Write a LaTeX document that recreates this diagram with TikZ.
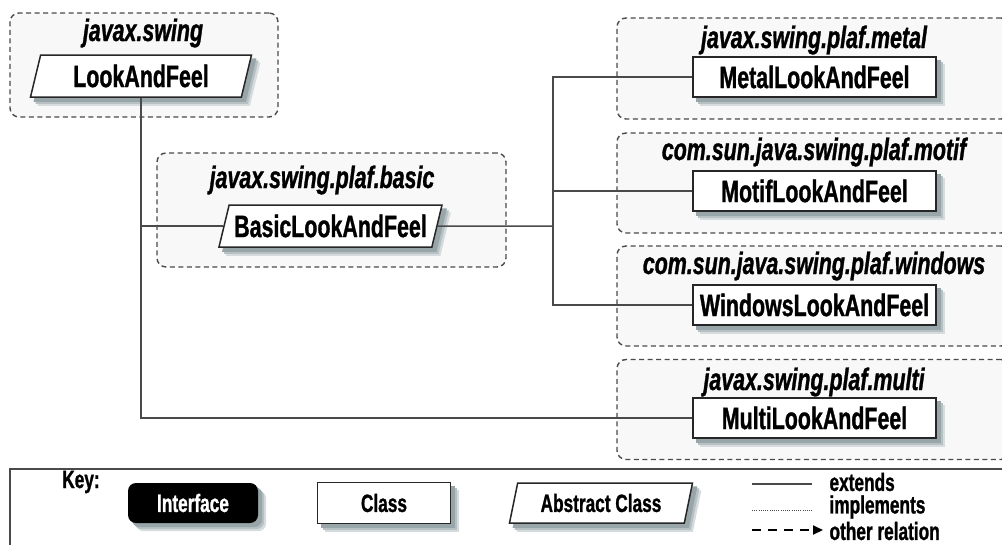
\documentclass[tikz,border=0pt]{standalone}
\usepackage{fontspec}
\setmainfont{Liberation Sans}[FakeStretch=0.69,BoldFeatures={FakeBold=1},BoldItalicFeatures={FakeBold=1}]
\usetikzlibrary{arrows.meta,shapes.geometric}
\definecolor{pkgfill}{HTML}{F8F8F8}
\definecolor{lnc}{HTML}{4A4A4A}
\definecolor{shd}{HTML}{98A6AA}
\pgfdeclarelayer{pkgs}
\pgfdeclarelayer{shadows}
\pgfsetlayers{pkgs,shadows,main}
\begin{document}
\begin{tikzpicture}[x=1pt,y=-1pt,font=\fontsize{31}{34}\selectfont\bfseries,
 pkg/.style={draw=lnc,fill=pkgfill,line width=1.4pt,dash pattern=on 5pt off 3.5pt,rounded corners=9pt,inner sep=0pt},
 pkgname/.style={font=\fontsize{31}{34}\selectfont\bfseries\itshape},
 cls/.style={draw=black!85,fill=white,line width=1.5pt,minimum width=243pt,minimum height=40pt,inner sep=0pt},
 abscls/.style={trapezium,trapezium left angle=66,trapezium right angle=114,trapezium stretches body,draw=black!85,fill=white,line width=1.5pt,minimum height=42pt,inner sep=0pt},
 keytxt/.style={font=\fontsize{25}{28}\selectfont\bfseries},
 wire/.style={draw=lnc,line width=1.5pt}]
 \useasboundingbox (0,0) rectangle (1002,544);
 % packages
 \begin{pgfonlayer}{pkgs}
 \node[pkg,minimum width=268pt,minimum height=104pt] (swingpkg) at (144,65) {};
 \node[pkg,minimum width=349pt,minimum height=114pt] (basicpkg) at (331.5,210) {};
 \node[pkg,minimum width=393pt,minimum height=101pt] (metalpkg) at (813.5,68.5) {};
 \node[pkg,minimum width=393pt,minimum height=100pt] (motifpkg) at (813.5,183) {};
 \node[pkg,minimum width=393pt,minimum height=100pt] (winpkg) at (813.5,296) {};
 \node[pkg,minimum width=393pt,minimum height=100pt] (multipkg) at (813.5,409.5) {};
 \end{pgfonlayer}
 \node[pkgname] (swingname) at (143,33) {javax.swing};
 \node[pkgname] (basicname) at (322,180) {javax.swing.plaf.basic};
 \node[pkgname] (metalname) at (814,40) {javax.swing.plaf.metal};
 \node[pkgname] (motifname) at (814,152) {com.sun.java.swing.plaf.motif};
 \node[pkgname] (winname) at (814,266) {com.sun.java.swing.plaf.windows};
 \node[pkgname] (multiname) at (814,382) {javax.swing.plaf.multi};
 % classes
 \coordinate (junc) at (553,226);
 \path (141,76) node[abscls,minimum width=221pt] (laf) {LookAndFeel}
       (330.5,226) node[abscls,minimum width=223pt] (basic) {BasicLookAndFeel}
       (814.5,77) node[cls] (metal) {MetalLookAndFeel}
       (814.5,191) node[cls] (motif) {MotifLookAndFeel}
       (814.5,305) node[cls] (win) {WindowsLookAndFeel}
       (814.5,418) node[cls] (multi) {MultiLookAndFeel};
 \draw[wire] (laf.south) |- (multi.west);
 \draw[wire] (laf.south |- basic.west) -- (basic.west);
 \draw[wire] (basic.east) -- (junc);
 \draw[wire] (junc) |- (metal.west) (junc) |- (win.west) (junc |- motif.west) -- (motif.west);
 % key
 \draw[draw=lnc,line width=1.8pt] (10,469) rectangle (1020,560);
 \node[keytxt] (keylbl) at (81,482) {Key:};
 \node[keytxt,fill=black,text=white,rounded corners=8pt,minimum width=130pt,minimum height=40pt,inner sep=0pt] (iface) at (193,503) {Interface};
 \node[cls,keytxt,minimum width=133pt,minimum height=41pt] (clskey) at (384,503) {Class};
 \node[abscls,keytxt,minimum width=183pt,minimum height=40pt] (abskey) at (601,503) {Abstract Class};
 \node[keytxt,anchor=west] (extlbl) at (826,482) {extends};
 \node[keytxt,anchor=west] (implbl) at (826,507) {implements};
 \node[keytxt,anchor=west] (othlbl) at (826,531) {other relation};
 \coordinate (exts) at (752,484);
 \coordinate (imps) at (752,510);
 \coordinate (oths) at (752,530);
 \draw[draw=lnc,line width=1.2pt] (exts) -- ++(60,0);
 \draw[draw=lnc,line width=1pt,dash pattern=on 1pt off 1.2pt] (imps) -- ++(60,0);
 \draw[line width=2pt,dash pattern=on 9pt off 7pt,-{Triangle[length=10pt,width=9pt]}] (oths) -- ++(71,0);
 % shadows
 \begin{pgfonlayer}{shadows}
 \foreach \s/\c in {8/shd!40,6/shd!70,4/shd} {
  \foreach \n in {metal,motif,win,multi,clskey}
   \fill[\c] ([shift={(\s,\s)}]\n.south west) rectangle ([shift={(\s,\s)}]\n.north east);
  \foreach \n in {laf,basic,abskey}
   \fill[\c] ([shift={(\s,\s)}]\n.bottom left corner) -- ([shift={(\s,\s)}]\n.bottom right corner)
     -- ([shift={(\s,\s)}]\n.top right corner) -- ([shift={(\s,\s)}]\n.top left corner) -- cycle;
  \fill[\c,rounded corners=8pt] ([shift={(\s,\s)}]iface.south west) rectangle ([shift={(\s,\s)}]iface.north east);
 }
 \end{pgfonlayer}
\end{tikzpicture}
\end{document}
